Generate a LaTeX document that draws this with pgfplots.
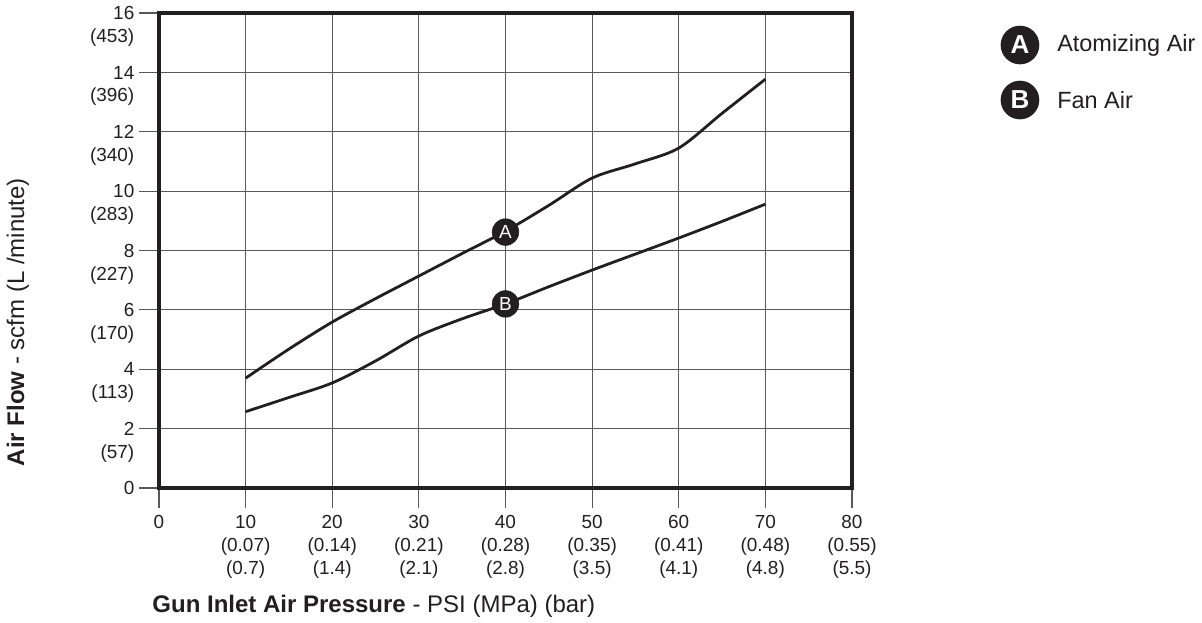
\documentclass[border=0pt]{standalone}
\usepackage{fontspec}
\setmainfont{Liberation Sans}
\usepackage{pgfplots}
\pgfplotsset{compat=1.18}
\definecolor{ink}{HTML}{231F20}
\definecolor{gridc}{HTML}{58595B}
\newcommand\yl[2]{\begin{tabular}[t]{@{}r@{}}#1\\(#2)\end{tabular}}
\newcommand\tickfont{\fontsize{14.2}{17.2}\selectfont}
\begin{document}
\begin{tikzpicture}
\path[use as bounding box] (-119.25pt,-100.5pt) rectangle (782.25pt,366pt);
\begin{axis}[
  at={(0,0)}, anchor=south west, scale only axis,
  width=519.75pt, height=356.25pt,
  xmin=0, xmax=80, ymin=0, ymax=16,
  clip=false,
  xtick={0,10,...,80}, ytick={0,2,...,16},
  xticklabels={0,{10\\(0.07)\\(0.7)},{20\\(0.14)\\(1.4)},{30\\(0.21)\\(2.1)},{40\\(0.28)\\(2.8)},{50\\(0.35)\\(3.5)},{60\\(0.41)\\(4.1)},{70\\(0.48)\\(4.8)},{80\\(0.55)\\(5.5)}},
  yticklabels={0,{\yl{2}{57}},{\yl{4}{113}},{\yl{6}{170}},{\yl{8}{227}},{\yl{10}{283}},{\yl{12}{340}},{\yl{14}{396}},{\yl{16}{453}}},
  xticklabel style={align=center, font=\tickfont, text=ink, yshift=-2pt},
  yticklabel style={anchor=base east, yshift=-5pt, font=\tickfont, text=ink},
  /pgf/number format/assume math mode=true,
  grid=major, grid style={gridc, line width=0.8pt},
  axis line style={ink, line width=3.2pt},
  tick align=outside, major tick length=15pt,
  tick style={gridc, line width=0.8pt},
  xtick pos=left, ytick pos=left,
  xlabel={\textbf{Gun Inlet Air Pressure} - PSI (MPa) (bar)},
  xlabel style={at={(axis description cs:0.31,-0.248)}, anchor=center, font=\fontsize{18}{21}\selectfont, text=ink},
  ylabel={\textbf{Air Flow} - scfm (L /minute)},
  ylabel style={at={(axis description cs:-0.2035,0.349)}, anchor=center, font=\fontsize{18}{21}\selectfont, text=ink},
]
\addplot[ink, line width=2.1pt, smooth] coordinates {
(10,3.70) (15,4.68) (20,5.59) (25,6.38) (30,7.14) (35,7.90) (40,8.65)
(45,9.52) (50,10.44) (55,10.92) (60,11.45) (65,12.62) (70,13.77)};
\addplot[ink, line width=2.1pt, smooth] coordinates {
(10,2.57) (15,3.05) (20,3.54) (25,4.28) (30,5.12) (35,5.70) (40,6.20)
(45,6.78) (50,7.34) (55,7.88) (60,8.42) (65,8.98) (70,9.56)};
\addplot[only marks, mark=*, mark size=10pt, mark options={fill=ink, draw=ink},
  nodes near coords={A}, nodes near coords style={anchor=center, text=white, font=\tickfont}]
  coordinates {(40,8.62)};
\addplot[only marks, mark=*, mark size=10pt, mark options={fill=ink, draw=ink},
  nodes near coords={B}, nodes near coords style={anchor=center, text=white, font=\tickfont}]
  coordinates {(40,6.20)};
\node[circle, fill=ink, minimum size=29pt, inner sep=0pt, text=white, font=\fontsize{19.5}{22}\selectfont\bfseries]
  at (axis description cs:1.2424,0.9326) {A};
\node[circle, fill=ink, minimum size=29pt, inner sep=0pt, text=white, font=\fontsize{19.5}{22}\selectfont\bfseries]
  at (axis description cs:1.2424,0.8168) {B};
\node[anchor=west, inner sep=0pt, text=ink, font=\fontsize{17.6}{21}\selectfont]
  at (axis description cs:1.2958,0.9326) {Atomizing Air};
\node[anchor=west, inner sep=0pt, text=ink, font=\fontsize{17.6}{21}\selectfont]
  at (axis description cs:1.2958,0.8168) {Fan Air};
\end{axis}
\end{tikzpicture}
\end{document}
